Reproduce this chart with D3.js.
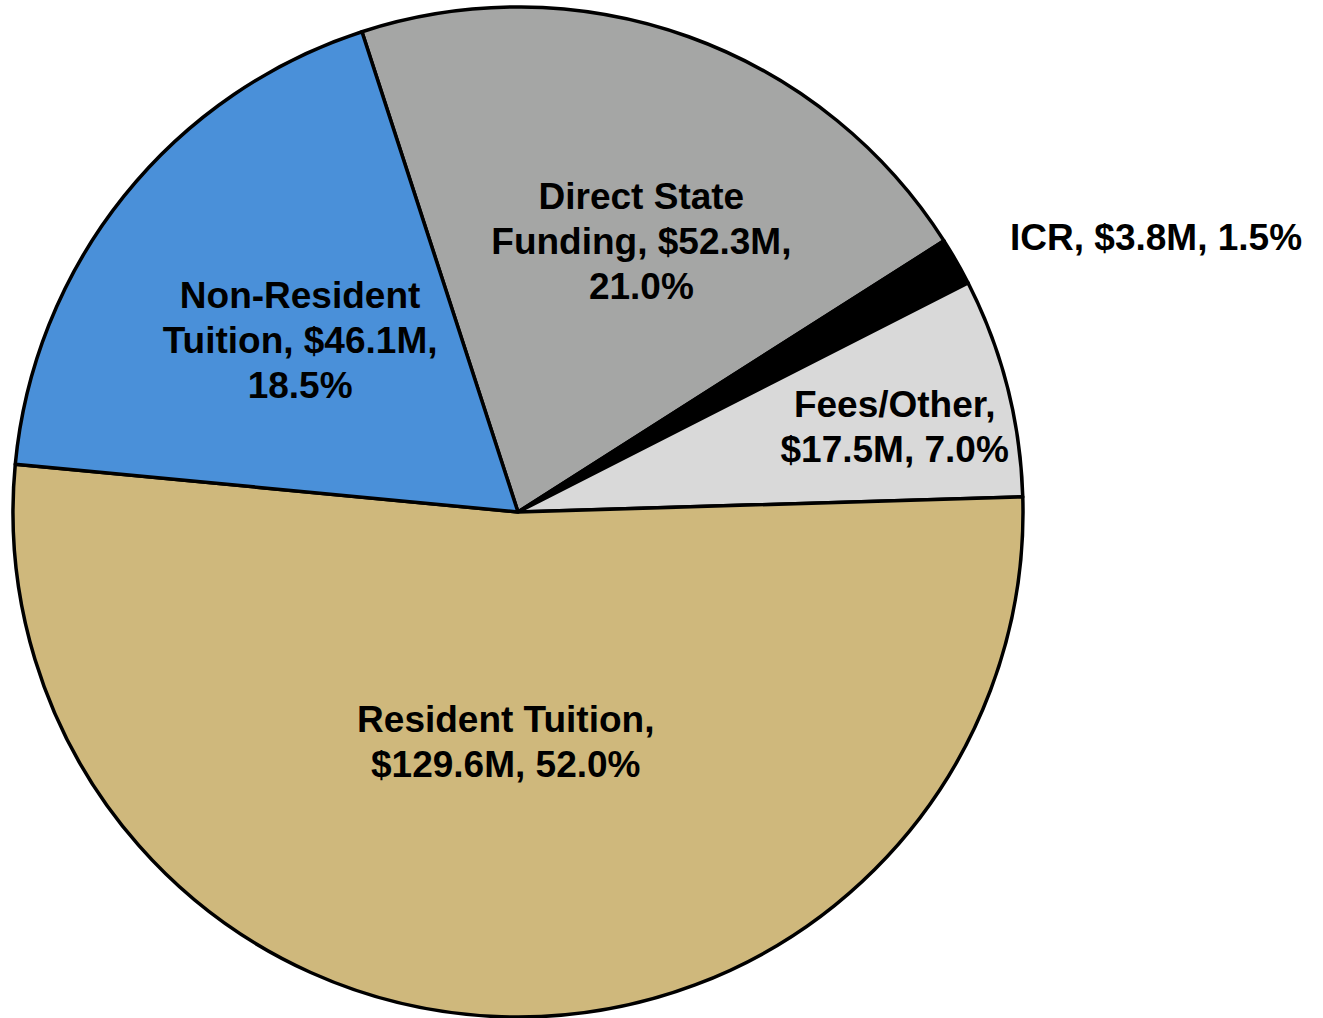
<!DOCTYPE html>
<html>
<head>
<meta charset="utf-8">
<script src="https://cdn.jsdelivr.net/npm/d3@7"></script>
<style>
  html, body { margin: 0; padding: 0; background: #ffffff; }
  svg { display: block; }
  text { font-family: "Liberation Sans", Arial, Helvetica, sans-serif; font-weight: bold; fill: #000; }
</style>
</head>
<body>
<svg id="chart" width="1323" height="1018"></svg>
<script>
// Revenue sources, in millions of dollars
const categories = ["Direct State Funding", "ICR", "Fees/Other", "Resident Tuition", "Non-Resident Tuition"];
const values = [52.3, 3.8, 17.5, 129.6, 46.1];
const percents = [21.0, 1.5, 7.0, 52.0, 18.5];
const colors = ["#a5a6a5", "#000000", "#d9d9d9", "#cfb87c", "#4a90d9"];
// Label text lines for each slice
const labelLines = [
  ["Direct State", "Funding, $52.3M,", "21.0%"],
  ["ICR, $3.8M, 1.5%"],
  ["Fees/Other,", "$17.5M, 7.0%"],
  ["Resident Tuition,", "$129.6M, 52.0%"],
  ["Non-Resident", "Tuition, $46.1M,", "18.5%"]
];

const width = 1323, height = 1018;
const cx = 518, cy = 512, radius = 505;
const deg = Math.PI / 180;

const svg = d3.select("#chart");
const g = svg.append("g").attr("transform", `translate(${cx},${cy})`);

const data = categories.map((c, i) => ({ name: c, value: values[i], pct: percents[i], color: colors[i], lines: labelLines[i] }));

const pie = d3.pie()
  .value(d => d.value)
  .sort(null)
  .startAngle(-18 * deg)
  .endAngle(-18 * deg + 2 * Math.PI);

const arc = d3.arc().innerRadius(0).outerRadius(radius);

const arcs = pie(data);

g.selectAll("path.slice")
  .data(arcs)
  .join("path")
  .attr("class", "slice")
  .attr("d", arc)
  .attr("fill", d => d.data.color)
  .attr("stroke", "#000")
  .attr("stroke-width", 3.5)
  .attr("stroke-linejoin", "round");

// Label placement: radial distance (fraction of radius) and angular nudge from mid-angle
const placement = {
  "Direct State Funding": { r: 0.59, da: 4.7 },
  "ICR": { r: 1.376, da: 6.4 },
  "Fees/Other": { r: 0.765, da: 1.5 },
  "Resident Tuition": { r: 0.455, da: 1.2 },
  "Non-Resident Tuition": { r: 0.55, da: -0.4 }
};

const fontSize = 37;
const lineGap = 45;

arcs.forEach(a => {
  const p = placement[a.data.name];
  const mid = (a.startAngle + a.endAngle) / 2 + p.da * deg;
  const rr = radius * p.r;
  const x = Math.sin(mid) * rr;
  const y = -Math.cos(mid) * rr;
  const n = a.data.lines.length;
  const t = g.append("text")
    .attr("text-anchor", "middle")
    .attr("font-size", fontSize);
  a.data.lines.forEach((line, i) => {
    t.append("tspan")
      .attr("x", x)
      .attr("y", y + (i - (n - 1) / 2) * lineGap)
      .attr("dy", "0.35em")
      .text(line);
  });
});
</script>
</body>
</html>
